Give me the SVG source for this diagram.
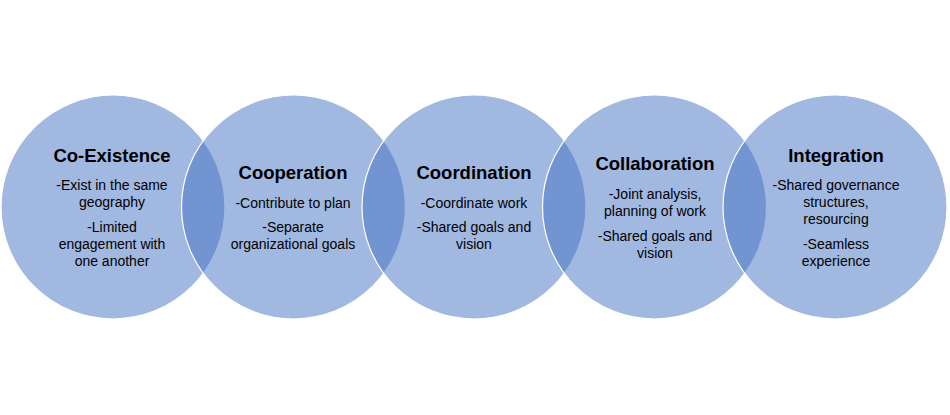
<svg xmlns="http://www.w3.org/2000/svg" width="950" height="415" viewBox="0 0 950 415">
<style>
.c{fill:#4472C4;fill-opacity:0.5;stroke:#ffffff;stroke-width:1.2}
.t{font-family:"Liberation Sans",Arial,sans-serif;font-weight:bold;font-size:18.5px;fill:#000;text-anchor:middle}
.b{font-family:"Liberation Sans",Arial,sans-serif;font-size:14px;fill:#000;text-anchor:middle}
</style>
<rect width="950" height="415" fill="#ffffff"/>
<g id="node-coexistence">
<circle class="c" cx="113" cy="207" r="112"/>
<text class="t" x="112" y="162">Co-Existence</text>
<text class="b" x="112" y="190">-Exist in the same</text>
<text class="b" x="112" y="207">geography</text>
<text class="b" x="112" y="232">-Limited</text>
<text class="b" x="112" y="249">engagement with</text>
<text class="b" x="112" y="266">one another</text>
</g>
<g id="node-cooperation">
<circle class="c" cx="293.5" cy="207" r="112"/>
<text class="t" x="293" y="179">Cooperation</text>
<text class="b" x="293" y="208">-Contribute to plan</text>
<text class="b" x="293" y="232">-Separate</text>
<text class="b" x="293" y="249">organizational goals</text>
</g>
<g id="node-coordination">
<circle class="c" cx="474" cy="207" r="112"/>
<text class="t" x="474" y="179">Coordination</text>
<text class="b" x="474" y="208">-Coordinate work</text>
<text class="b" x="474" y="232">-Shared goals and</text>
<text class="b" x="474" y="249">vision</text>
</g>
<g id="node-collaboration">
<circle class="c" cx="654.5" cy="207" r="112"/>
<text class="t" x="655" y="170">Collaboration</text>
<text class="b" x="655" y="199">-Joint analysis,</text>
<text class="b" x="655" y="216">planning of work</text>
<text class="b" x="655" y="241">-Shared goals and</text>
<text class="b" x="655" y="258">vision</text>
</g>
<g id="node-integration">
<circle class="c" cx="835" cy="207" r="112"/>
<text class="t" x="836" y="162">Integration</text>
<text class="b" x="836" y="190">-Shared governance</text>
<text class="b" x="836" y="207">structures,</text>
<text class="b" x="836" y="224">resourcing</text>
<text class="b" x="836" y="249">-Seamless</text>
<text class="b" x="836" y="266">experience</text>
</g>
<g id="connectors"></g>
</svg>
